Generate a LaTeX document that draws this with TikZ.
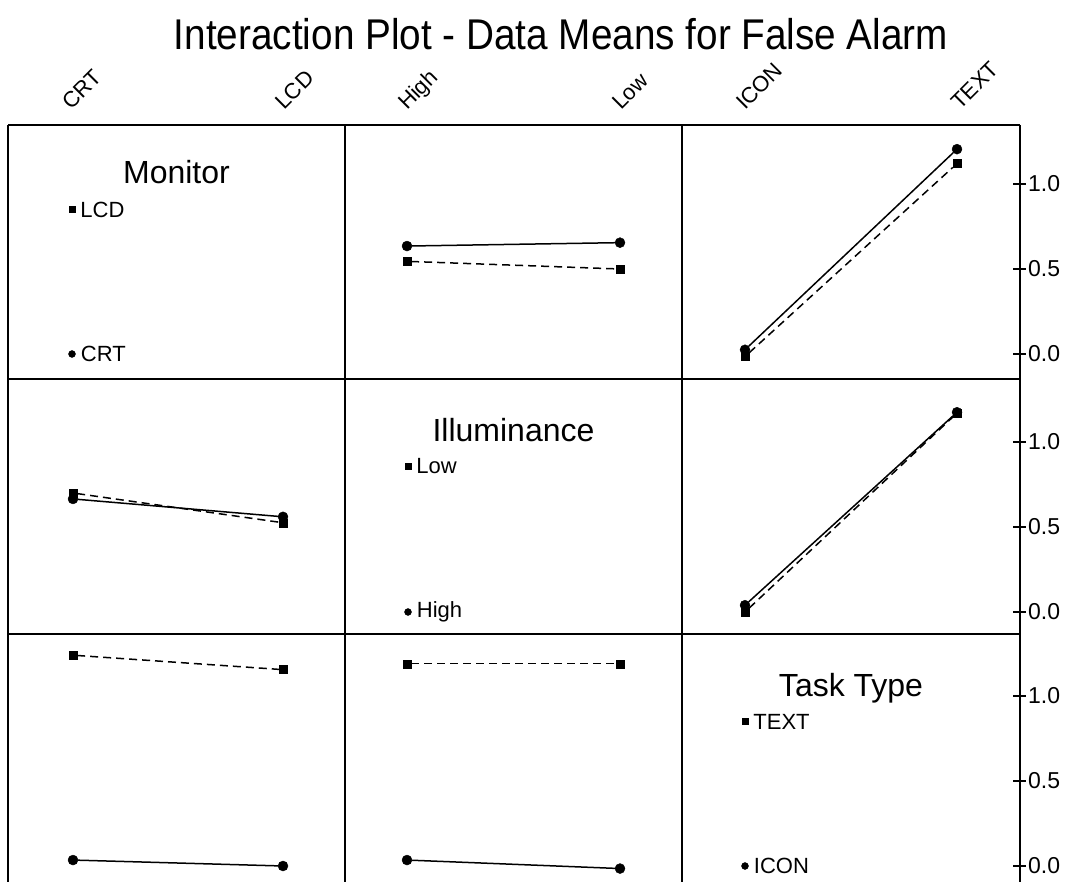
\documentclass[tikz,border=0pt]{standalone}
\usepackage{fontspec}
\setmainfont{Liberation Sans}
\newfontfamily\titlefont[FakeStretch=0.9]{Liberation Sans}
\usetikzlibrary{positioning,calc}

\begin{document}
\begin{tikzpicture}[
  x=1pt,y=-1pt,
  gridline/.style={draw,line width=1.5pt},
  dot/.style={draw,fill,circle,inner sep=0pt,minimum size=10pt},
  sq/.style={draw,fill,rectangle,inner sep=0pt,minimum size=8pt},
  ldot/.style={dot,minimum size=7pt},
  lsq/.style={sq,minimum size=6pt},
  solidtr/.style={draw,line width=1.5pt},
  dashtr/.style={draw,line width=1.5pt,dash pattern=on 8pt off 5pt},
  panel/.style={font=\fontsize{32}{36}\selectfont,anchor=base},
  entry/.style={font=\fontsize{22}{26}\selectfont,inner sep=0pt},
  lvl/.style={font=\fontsize{22}{26}\selectfont,rotate=45,anchor=base west,inner sep=0pt},
  ticklab/.style={font=\fontsize{23}{27}\selectfont,anchor=west,inner sep=0pt},
  ]
  \useasboundingbox (0,0) rectangle (1069,882);
  \node[font=\titlefont\fontsize{43}{48}\selectfont,anchor=base] (title) at (561,50)
    {Interaction Plot - Data Means for False Alarm};
  % level names on top
  \node[lvl] (topCRT) at (71,111) {CRT};
  \node[lvl] (topLCD) at (284,111) {LCD};
  \node[lvl] (topHigh) at (407,111) {High};
  \node[lvl] (topLow) at (621,111) {Low};
  \node[lvl] (topICON) at (745,111) {ICON};
  \node[lvl] (topTEXT) at (960,111) {TEXT};
  % panel grid
  \path[gridline] (8,125) -- (1020,125);
  \path[gridline] (8,379) -- (1020,379);
  \path[gridline] (8,634) -- (1020,634);
  \foreach \gx in {8,345,682,1020}
    \path[gridline] (\gx,125) -- (\gx,882);
  % right axis
  \foreach \z [count=\i] in {354,612,866} {
    \foreach \v/\t [count=\j] in {0/0.0,0.5/0.5,1/1.0} {
      \path[draw,line width=1.3pt] (1013,{\z-170*\v}) -- (1026,{\z-170*\v});
      \node[ticklab] (tick\i\j) at (1028,{\z-170*\v}) {\t};
    }
  }

  % row 1: Monitor
  \begin{scope}[shift={(0,354)},y=170pt]
    \node[panel] (monitor) at (176.5,1) {Monitor};
    \node[lsq] (monitorLCD) at (72,0.85) {};
    \node[entry,right=5pt of monitorLCD] (monitorLCDt) {LCD};
    \node[ldot] (monitorCRT) at (72,0) {};
    \node[entry,right=5pt of monitorCRT] (monitorCRTt) {CRT};
    \node[dot] (miCH) at (407,0.635) {};
    \node[dot] (miCL) at (620,0.655) {};
    \node[sq] (miLH) at (407,0.545) {};
    \node[sq] (miLL) at (620,0.50) {};
    \node[dot] (mtCI) at (745,0.025) {};
    \node[dot] (mtCT) at (957,1.205) {};
    \node[sq] (mtLI) at (745,-0.015) {};
    \node[sq] (mtLT) at (957,1.12) {};
    \path[solidtr] (miCH) -- (miCL);
    \path[dashtr] (miLH) -- (miLL);
    \path[solidtr] (mtCI) -- (mtCT);
    \path[dashtr] (mtLI) -- (mtLT);
  \end{scope}

  % row 2: Illuminance
  \begin{scope}[shift={(0,612)},y=170pt]
    \node[panel] (illum) at (513.5,1) {Illuminance};
    \node[lsq] (illumLow) at (408,0.86) {};
    \node[entry,right=5pt of illumLow] (illumLowt) {Low};
    \node[ldot] (illumHigh) at (408,0) {};
    \node[entry,right=5pt of illumHigh] (illumHight) {High};
    \node[dot] (imHC) at (73,0.665) {};
    \node[dot] (imHL) at (283,0.56) {};
    \node[sq] (imLC) at (73,0.70) {};
    \node[sq] (imLL) at (283,0.525) {};
    \node[dot] (itHI) at (745,0.04) {};
    \node[dot] (itHT) at (957,1.175) {};
    \node[sq] (itLI) at (745,0.0) {};
    \node[sq] (itLT) at (957,1.17) {};
    \path[solidtr] (imHC) -- (imHL);
    \path[dashtr] (imLC) -- (imLL);
    \path[solidtr] (itHI) -- (itHT);
    \path[dashtr] (itLI) -- (itLT);
  \end{scope}

  % row 3: Task Type
  \begin{scope}[shift={(0,866)},y=170pt]
    \node[panel] (task) at (851,1) {Task Type};
    \node[lsq] (taskTEXT) at (745,0.85) {};
    \node[entry,right=5pt of taskTEXT] (taskTEXTt) {TEXT};
    \node[ldot] (taskICON) at (745,0) {};
    \node[entry,right=5pt of taskICON] (taskICONt) {ICON};
    \node[sq] (tmTC) at (73,1.24) {};
    \node[sq] (tmTL) at (283,1.155) {};
    \node[dot] (tmIC) at (73,0.035) {};
    \node[dot] (tmIL) at (283,0.0) {};
    \node[sq] (tiTH) at (407,1.19) {};
    \node[sq] (tiTL) at (620,1.19) {};
    \node[dot] (tiIH) at (407,0.035) {};
    \node[dot] (tiIL) at (620,-0.015) {};
    \path[dashtr] (tmTC) -- (tmTL);
    \path[solidtr] (tmIC) -- (tmIL);
    \path[dashtr] (tiTH) -- (tiTL);
    \path[solidtr] (tiIH) -- (tiIL);
  \end{scope}
\end{tikzpicture}
\end{document}
